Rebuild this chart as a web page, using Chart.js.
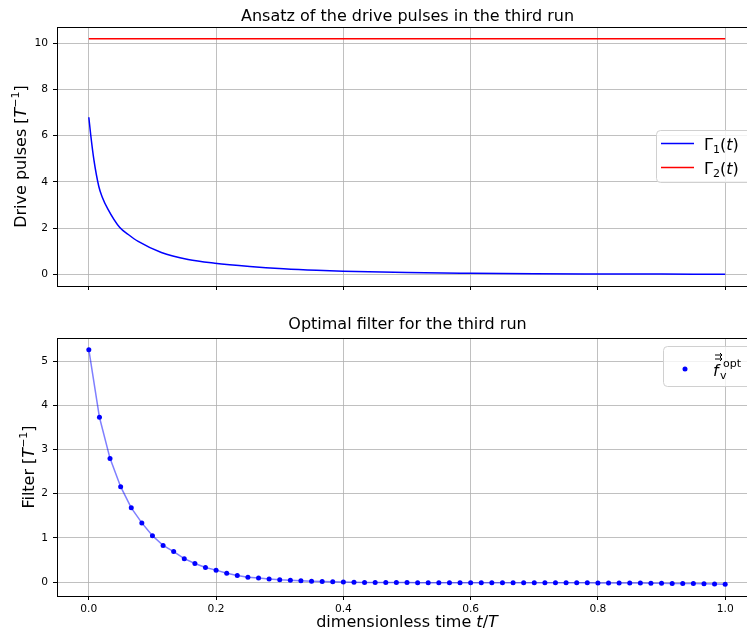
<!DOCTYPE html>
<html>
<head>
<meta charset="utf-8">
<script src="https://cdn.jsdelivr.net/npm/chart.js@4.4.1/dist/chart.umd.min.js"></script>
<style>
  html, body { margin: 0; padding: 0; background: #fff; overflow: hidden; width: 747px; height: 637px; }
  .box { position: absolute; left: 0; }
</style>
</head>
<body>
<div class="box" style="top:0"><canvas id="topChart" width="780" height="310"></canvas></div>
<div class="box" style="top:310px"><canvas id="botChart" width="780" height="327"></canvas></div>
<script>
// Achsen-Ticks
const xTicks = [0, 0.2, 0.4, 0.6, 0.8, 1.0];
const topYTicks = [0, 2, 4, 6, 8, 10];
const botYTicks = [0, 1, 2, 3, 4, 5];

// Gamma_1(t)
const gamma1T = [0, 0.003, 0.008, 0.0157, 0.021, 0.03, 0.0487, 0.062, 0.0776, 0.114, 0.156, 0.198, 0.253, 0.306, 0.358, 0.4, 0.5, 0.6, 0.7, 0.8, 0.9, 1.0];
const gamma1V = [6.8, 6.03, 4.95, 3.8, 3.35, 2.82, 2.02, 1.72, 1.42, 0.94, 0.64, 0.48, 0.34, 0.24, 0.17, 0.13, 0.07, 0.04, 0.02, 0.01, 0.005, 0.0];

// Gamma_2(t) - konstant
const gamma2T = [0, 1.0];
const gamma2V = [10.2, 10.2];

// optimaler Filter, 61 Stuetzstellen
const filterT = [0, 0.0167, 0.0333, 0.05, 0.0667, 0.0833, 0.1, 0.1167, 0.1333, 0.15, 0.1667, 0.1833, 0.2,
  0.2167, 0.2333, 0.25, 0.2667, 0.2833, 0.3, 0.3167, 0.3333, 0.35, 0.3667, 0.3833, 0.4,
  0.4167, 0.4333, 0.45, 0.4667, 0.4833, 0.5, 0.5167, 0.5333, 0.55, 0.5667, 0.5833, 0.6,
  0.6167, 0.6333, 0.65, 0.6667, 0.6833, 0.7, 0.7167, 0.7333, 0.75, 0.7667, 0.7833, 0.8,
  0.8167, 0.8333, 0.85, 0.8667, 0.8833, 0.9, 0.9167, 0.9333, 0.95, 0.9667, 0.9833, 1.0];
const filterV = [5.26, 3.73, 2.80, 2.16, 1.68, 1.34, 1.05, 0.83, 0.69, 0.53, 0.42, 0.33, 0.27,
  0.20, 0.15, 0.11, 0.09, 0.07, 0.05, 0.04, 0.03, 0.02, 0.01, 0.005, 0.0,
  -0.005, -0.01, -0.01, -0.01, -0.01, -0.01, -0.015, -0.015, -0.015, -0.015, -0.015, -0.015,
  -0.015, -0.015, -0.015, -0.015, -0.015, -0.015, -0.015, -0.015, -0.015, -0.015, -0.015, -0.02,
  -0.02, -0.02, -0.02, -0.02, -0.025, -0.025, -0.03, -0.03, -0.035, -0.04, -0.045, -0.05];

const FONT = '"DejaVu Sans", sans-serif';
const N16 = '16px ' + FONT, I16 = 'italic 16px ' + FONT, N11 = '11px ' + FONT;

function pts(xs, ys) { return xs.map((x, i) => ({ x: x, y: ys[i] })); }

function richWidth(ctx, segs) {
  let w = 0;
  segs.forEach(s => { ctx.font = s.f; w += ctx.measureText(s.t).width; });
  return w;
}
function drawRich(ctx, segs, x, y) {
  segs.forEach(s => {
    ctx.font = s.f;
    ctx.fillText(s.t, x, y + (s.dy || 0));
    x += ctx.measureText(s.t).width;
  });
}

const deco = {
  id: 'deco',
  afterDraw(chart, args, o) {
    const ctx = chart.ctx, a = chart.chartArea;
    ctx.save();
    // Rahmen
    ctx.strokeStyle = '#000'; ctx.lineWidth = 1;
    ctx.strokeRect(Math.round(a.left) + 0.5, Math.round(a.top) + 0.5, Math.round(a.right - a.left), Math.round(a.bottom - a.top));
    ctx.fillStyle = '#000'; ctx.textBaseline = 'alphabetic'; ctx.textAlign = 'left';
    // Titel
    ctx.font = N16; ctx.textAlign = 'center';
    ctx.fillText(o.title, (a.left + 750) / 2 + 4, o.titleY);
    ctx.textAlign = 'left';
    // y-Achsentitel
    ctx.save();
    ctx.translate(o.yLabelX, (a.top + a.bottom) / 2);
    ctx.rotate(-Math.PI / 2);
    drawRich(ctx, o.yLabel, -richWidth(ctx, o.yLabel) / 2, 5);
    ctx.restore();
    // x-Achsentitel
    if (o.xLabel) drawRich(ctx, o.xLabel, 407 - richWidth(ctx, o.xLabel) / 2, o.xLabelY);
    // Legende
    const L = o.legend;
    ctx.beginPath();
    ctx.roundRect(L.x + 0.5, L.y + 0.5, L.w, L.h, 4);
    ctx.fillStyle = 'rgba(255,255,255,0.8)'; ctx.fill();
    ctx.strokeStyle = '#d0d0d0'; ctx.lineWidth = 1; ctx.stroke();
    ctx.fillStyle = '#000';
    L.items.forEach(it => {
      if (it.kind === 'line') {
        ctx.strokeStyle = it.color; ctx.lineWidth = 1.5;
        ctx.beginPath(); ctx.moveTo(L.x + 5, it.y); ctx.lineTo(L.x + 38, it.y); ctx.stroke();
        ctx.fillStyle = '#000';
        drawRich(ctx, it.text, L.x + 48, it.y + 6);
      } else {
        ctx.fillStyle = it.color;
        ctx.beginPath(); ctx.arc(L.x + 22, it.y, 2.5, 0, Math.PI * 2); ctx.fill();
        ctx.fillStyle = '#000';
        const bx = L.x + 50, by = it.y + 7;
        ctx.font = I16; ctx.fillText('f', bx, by);
        ctx.font = N11; ctx.fillText('v', bx + 7, by + 3);
        ctx.fillText('opt', bx + 10, by - 9);
        // Pfeile ueber f
        ctx.strokeStyle = '#000'; ctx.lineWidth = 1;
        [by - 17, by - 21].forEach(yy => {
          ctx.beginPath(); ctx.moveTo(bx + 2, yy); ctx.lineTo(bx + 9, yy);
          ctx.moveTo(bx + 7, yy - 2); ctx.lineTo(bx + 9, yy); ctx.lineTo(bx + 7, yy + 2);
          ctx.stroke();
        });
      }
    });
    ctx.restore();
  }
};

function xScale(showLabels, h) {
  return {
    type: 'linear', min: -0.05, max: 1.05,
    afterBuildTicks: s => { s.ticks = xTicks.map(v => ({ value: v })); },
    afterFit: s => { s.height = h; },
    grid: { color: '#b0b0b0', lineWidth: 0.8, tickLength: 4, tickColor: '#000', tickWidth: 1 },
    border: { display: false },
    ticks: { display: showLabels, font: { family: FONT, size: 10.67 }, color: '#000', padding: 3, maxRotation: 0,
      callback: v => v.toFixed(1) }
  };
}
function yScale(min, max, tickVals) {
  return {
    type: 'linear', min: min, max: max,
    afterBuildTicks: s => { s.ticks = tickVals.map(v => ({ value: v })); },
    afterFit: s => { s.width = 57; },
    grid: { color: '#b0b0b0', lineWidth: 0.8, tickLength: 4, tickColor: '#000', tickWidth: 1 },
    border: { display: false },
    ticks: { font: { family: FONT, size: 10.67 }, color: '#000', padding: 5, callback: v => String(v) }
  };
}

new Chart(document.getElementById('topChart'), {
  type: 'line',
  data: {
    datasets: [
      { data: pts(gamma1T, gamma1V), borderColor: '#0000ff', borderWidth: 1.5, pointRadius: 0, cubicInterpolationMode: 'monotone' },
      { data: pts(gamma2T, gamma2V), borderColor: '#ff0000', borderWidth: 1.5, pointRadius: 0 }
    ]
  },
  options: {
    responsive: false, animation: false, devicePixelRatio: 1,
    layout: { padding: { top: 27, right: 23, left: 0, bottom: 0 } },
    scales: { x: xScale(false, 24), y: yScale(-0.51, 10.71, topYTicks) },
    plugins: {
      legend: { display: false }, tooltip: { enabled: false },
      deco: {
        title: 'Ansatz of the drive pulses in the third run', titleY: 21,
        yLabelX: 21,
        yLabel: [{ t: 'Drive pulses [', f: N16 }, { t: 'T', f: I16 }, { t: '\u22121', f: N11, dy: -7 }, { t: ']', f: N16 }],
        legend: { x: 656, y: 130, w: 100, h: 52, items: [
          { kind: 'line', color: '#0000ff', y: 143.5, text: [{ t: '\u0393', f: N16 }, { t: '1', f: N11, dy: 3 }, { t: '(', f: N16 }, { t: 't', f: I16 }, { t: ')', f: N16 }] },
          { kind: 'line', color: '#ff0000', y: 167.5, text: [{ t: '\u0393', f: N16 }, { t: '2', f: N11, dy: 3 }, { t: '(', f: N16 }, { t: 't', f: I16 }, { t: ')', f: N16 }] }
        ] }
      }
    }
  },
  plugins: [deco]
});

new Chart(document.getElementById('botChart'), {
  type: 'line',
  data: {
    datasets: [
      { data: pts(filterT, filterV), borderColor: 'rgba(0,0,255,0.5)', borderWidth: 1.5,
        pointRadius: 2.5, pointBackgroundColor: '#0000ff', pointBorderWidth: 0, pointBorderColor: '#0000ff' }
    ]
  },
  options: {
    responsive: false, animation: false, devicePixelRatio: 1,
    layout: { padding: { top: 28, right: 23, left: 0, bottom: 0 } },
    scales: { x: xScale(true, 41), y: yScale(-0.3155, 5.5255, botYTicks) },
    plugins: {
      legend: { display: false }, tooltip: { enabled: false },
      deco: {
        title: 'Optimal filter for the third run', titleY: 19,
        yLabelX: 29,
        yLabel: [{ t: 'Filter [', f: N16 }, { t: 'T', f: I16 }, { t: '\u22121', f: N11, dy: -7 }, { t: ']', f: N16 }],
        xLabel: [{ t: 'dimensionless time ', f: N16 }, { t: 't', f: I16 }, { t: '/', f: N16 }, { t: 'T', f: I16 }],
        xLabelY: 317,
        legend: { x: 663, y: 36, w: 95, h: 40, items: [
          { kind: 'marker', color: '#0000ff', y: 59 }
        ] }
      }
    }
  },
  plugins: [deco]
});
</script>
</body>
</html>
